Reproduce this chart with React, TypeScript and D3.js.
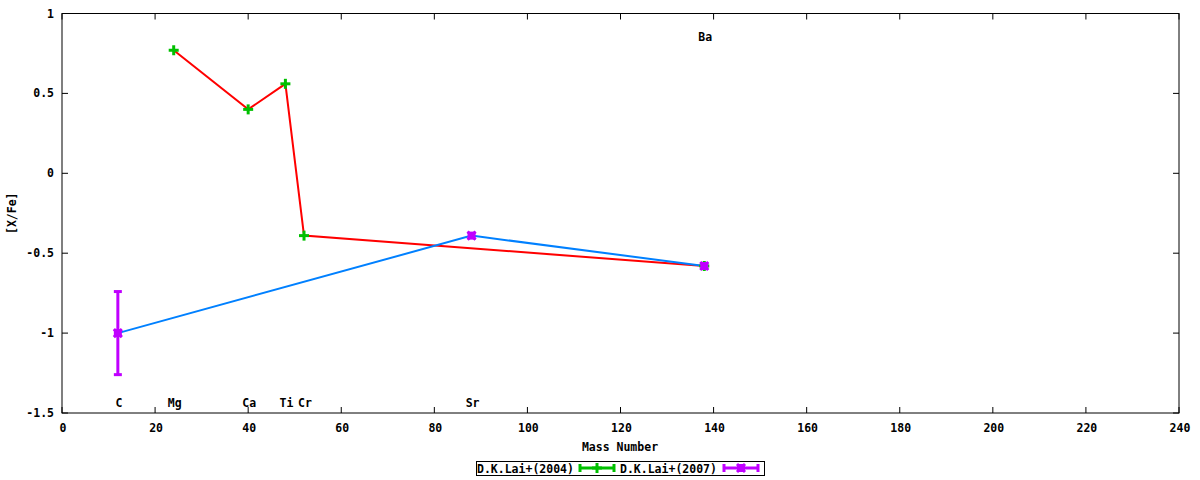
import React from "react";
import * as d3 from "d3";

const W = 1200;
const H = 480;

// D.K.Lai+(2004)
const lai2004Mass = [24, 40, 48, 52, 138];
const lai2004Val = [0.77, 0.40, 0.56, -0.39, -0.58];

// D.K.Lai+(2007)
const lai2007Mass = [12, 88, 138];
const lai2007Val = [-1.0, -0.39, -0.58];
const lai2007Err = [0.26, 0, 0];

// element labels
const labelNames = ["C", "Mg", "Ca", "Ti", "Cr", "Sr", "Ba"];
const labelMass = [12, 24, 40, 48, 52, 88, 138];
const labelY = [-1.44, -1.44, -1.44, -1.44, -1.44, -1.44, 0.85];

const xTicks = [0, 20, 40, 60, 80, 100, 120, 140, 160, 180, 200, 220, 240];
const yTicks = [-1.5, -1, -0.5, 0, 0.5, 1];

const FONT = "'DejaVu Sans Mono', 'Liberation Mono', monospace";
const RED = "#ff0000";
const GREEN = "#00c000";
const BLUE = "#0080ff";
const PURPLE = "#c000ff";

const Plus = ({ x, y, c }: { x: number; y: number; c: string }) => (
  <g stroke={c} strokeWidth={3}>
    <line x1={x - 5} x2={x + 5} y1={y} y2={y} />
    <line x1={x} x2={x} y1={y - 5} y2={y + 5} />
  </g>
);

const Cross = ({ x, y, c }: { x: number; y: number; c: string }) => (
  <g stroke={c} strokeWidth={3}>
    <line x1={x - 4} x2={x + 4} y1={y - 4} y2={y + 4} />
    <line x1={x - 4} x2={x + 4} y1={y + 4} y2={y - 4} />
    <rect x={x - 4} y={y - 4} width={8} height={8} fill={c} stroke="none" />
  </g>
);

export default function App() {
  const x = d3.scaleLinear().domain([0, 240]).range([62, 1179]);
  const y = d3.scaleLinear().domain([-1.5, 1]).range([413, 13.5]);
  const [x0, x1] = x.range();
  const [y0, y1] = y.range();

  const line = d3
    .line<[number, number]>()
    .x((d) => x(d[0]))
    .y((d) => y(d[1]));

  const d2004 = lai2004Mass.map((m, i) => [m, lai2004Val[i]] as [number, number]);
  const d2007 = lai2007Mass.map((m, i) => [m, lai2007Val[i]] as [number, number]);

  const fmt = (v: number) => String(v);

  return (
    <svg
      width={W}
      height={H}
      style={{ position: "absolute", left: 0, top: 0, background: "#fff" }}
      fontFamily={FONT}
      fontSize={11.5}
      fontWeight="bold"
    >
      <rect width={W} height={H} fill="#fff" />
      {/* ticks */}
      <g stroke="#000" strokeWidth={1}>
        {xTicks.map((t) => (
          <g key={"xt" + t}>
            <line x1={x(t)} x2={x(t)} y1={y0} y2={y0 - 6} />
            <line x1={x(t)} x2={x(t)} y1={y1} y2={y1 + 6} />
          </g>
        ))}
        {yTicks.map((t) => (
          <g key={"yt" + t}>
            <line x1={x0} x2={x0 + 6} y1={y(t)} y2={y(t)} />
            <line x1={x1} x2={x1 - 6} y1={y(t)} y2={y(t)} />
          </g>
        ))}
      </g>
      {xTicks.map((t) => (
        <text key={"xl" + t} x={x(t) + 1} y={432} textAnchor="middle">
          {fmt(t)}
        </text>
      ))}
      {yTicks.map((t) => (
        <text key={"yl" + t} x={54} y={y(t) + 4} textAnchor="end">
          {fmt(t)}
        </text>
      ))}

      {/* lines */}
      <path d={line(d2004) || ""} fill="none" stroke={RED} strokeWidth={2} />
      <path d={line(d2007) || ""} fill="none" stroke={BLUE} strokeWidth={2} />

      {/* 2004 points */}
      {d2004.map((d, i) => (
        <Plus key={"p4" + i} x={x(d[0])} y={y(d[1])} c={GREEN} />
      ))}
      {/* 2007 error bars & points */}
      {d2007.map((d, i) => {
        const e = lai2007Err[i];
        const cx = x(d[0]);
        return (
          <g key={"p7" + i}>
            {e > 0 && (
              <g stroke={PURPLE} strokeWidth={3}>
                <line x1={cx} x2={cx} y1={y(d[1] + e)} y2={y(d[1] - e)} />
                <line x1={cx - 4} x2={cx + 4} y1={y(d[1] + e)} y2={y(d[1] + e)} />
                <line x1={cx - 4} x2={cx + 4} y1={y(d[1] - e)} y2={y(d[1] - e)} />
              </g>
            )}
            <Cross x={cx} y={y(d[1])} c={PURPLE} />
          </g>
        );
      })}

      {/* element labels */}
      {labelNames.map((n, i) => (
        <text key={"el" + n} x={x(labelMass[i]) + 1} y={y(labelY[i]) + 4} textAnchor="middle">
          {n}
        </text>
      ))}

      {/* border */}
      <rect x={x0} y={y1} width={x1 - x0} height={y0 - y1} fill="none" stroke="#000" strokeWidth={1} />

      {/* axis titles */}
      <text x={620} y={451} textAnchor="middle">Mass Number</text>
      <text transform={`translate(16,${(y0 + y1) / 2}) rotate(-90)`} textAnchor="middle">
        [X/Fe]
      </text>

      {/* legend */}
      <rect x={476.5} y={461.5} width={288} height={14} fill="none" stroke="#000" strokeWidth={1} />
      <text x={477} y={472.5}>D.K.Lai+(2004)</text>
      <g stroke={GREEN} strokeWidth={3}>
        <line x1={580} x2={614} y1={468} y2={468} />
        <line x1={580} x2={580} y1={464} y2={472} />
        <line x1={614} x2={614} y1={464} y2={472} />
      </g>
      <Plus x={597} y={468} c={GREEN} />
      <text x={620} y={472.5}>D.K.Lai+(2007)</text>
      <g stroke={PURPLE} strokeWidth={3}>
        <line x1={724} x2={758} y1={468} y2={468} />
        <line x1={724} x2={724} y1={464} y2={472} />
        <line x1={758} x2={758} y1={464} y2={472} />
      </g>
      <Cross x={741} y={468} c={PURPLE} />
    </svg>
  );
}
